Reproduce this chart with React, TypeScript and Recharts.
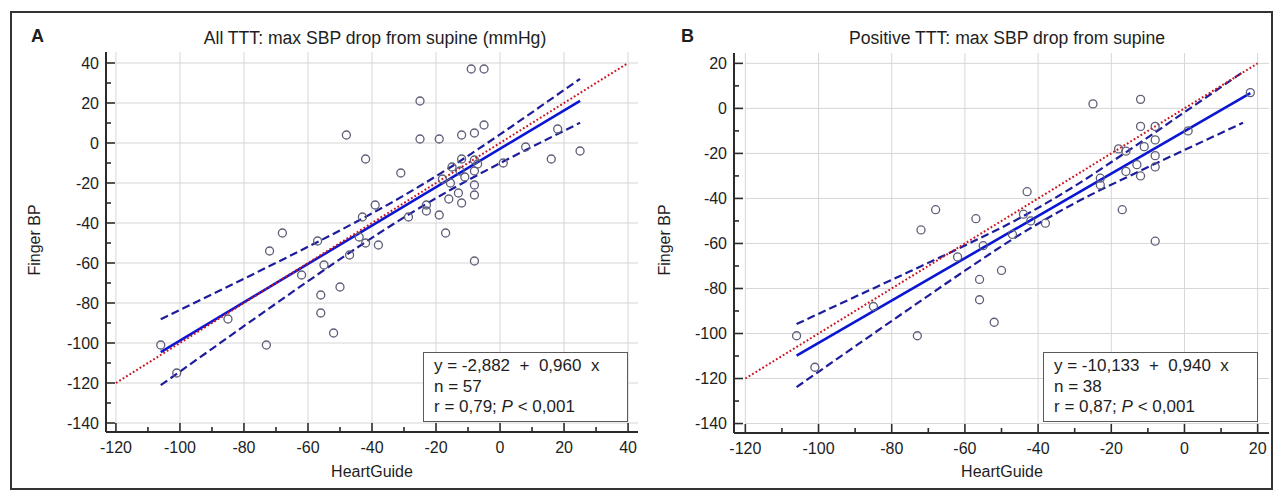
import React from "react"
import { ComposedChart, Scatter, Line, XAxis, YAxis, ReferenceLine } from "recharts"

type Pt = { x: number; y: number }

// panel A: all tilt tests (HeartGuide vs finger BP, max SBP drop)
const allTTT: Pt[] = [
  { x: -48, y: 4 }, { x: -42, y: -8 }, { x: -43, y: -37 }, { x: -68, y: -45 },
  { x: -57, y: -49 }, { x: -9, y: 37 }, { x: -5, y: 37 }, { x: -25, y: 21 },
  { x: -25, y: 2 }, { x: -19, y: 2 }, { x: -12, y: 4 }, { x: -8, y: 5 },
  { x: -5, y: 9 }, { x: 18, y: 7 }, { x: 8, y: -2 }, { x: 25, y: -4 },
  { x: 16, y: -8 }, { x: 1, y: -10 }, { x: -31, y: -15 }, { x: -12, y: -8 },
  { x: -8, y: -8.5 }, { x: -7, y: -10.5 }, { x: -15, y: -12 }, { x: -12.5, y: -14 },
  { x: -8, y: -14 }, { x: -11, y: -17 }, { x: -18, y: -18 }, { x: -15.5, y: -20 },
  { x: -8, y: -21 }, { x: -13, y: -25 }, { x: -8, y: -26 }, { x: -16, y: -28 },
  { x: -12, y: -30 }, { x: -23, y: -31 }, { x: -39, y: -31 }, { x: -23, y: -34 },
  { x: -19, y: -36 }, { x: -28.6, y: -37 }, { x: -17, y: -45 }, { x: -72, y: -54 },
  { x: -44, y: -47 }, { x: -42, y: -50 }, { x: -47, y: -56 }, { x: -55, y: -61 },
  { x: -62, y: -66 }, { x: -50, y: -72 }, { x: -56, y: -76 }, { x: -56, y: -85 },
  { x: -52, y: -95 }, { x: -85, y: -88 }, { x: -106, y: -101 }, { x: -73, y: -101 },
  { x: -101, y: -115 }, { x: -38, y: -51 }, { x: -8, y: -59 },
]

// panel B: positive tilt tests only
const positiveTTT: Pt[] = [
  { x: -68, y: -45 }, { x: -72, y: -54 }, { x: -57, y: -49 }, { x: -55, y: -61 },
  { x: -25, y: 2 }, { x: -12, y: 4 }, { x: 18, y: 7 }, { x: -12, y: -8 },
  { x: -8, y: -8 }, { x: 1, y: -10 }, { x: -8, y: -14 }, { x: -18, y: -18 },
  { x: -16, y: -19 }, { x: -11, y: -17 }, { x: -8, y: -21 }, { x: -13, y: -25 },
  { x: -8, y: -26 }, { x: -16, y: -28 }, { x: -12, y: -30 }, { x: -23, y: -31 },
  { x: -23, y: -34 }, { x: -43, y: -37 }, { x: -17, y: -45 }, { x: -44, y: -47 },
  { x: -42, y: -50 }, { x: -38, y: -51 }, { x: -47, y: -56 }, { x: -8, y: -59 },
  { x: -62, y: -66 }, { x: -56, y: -76 }, { x: -56, y: -85 }, { x: -50, y: -72 },
  { x: -52, y: -95 }, { x: -85, y: -88 }, { x: -106, y: -101 }, { x: -73, y: -101 },
  { x: -101, y: -115 },
]

const fitAll: Pt[] = [{ x: -106, y: -104.6 }, { x: 25, y: 21.1 }]
const upperAll: Pt[] = [
  { x: -106, y: -88.1 }, { x: -90, y: -75.7 }, { x: -75, y: -63.9 }, { x: -60, y: -51.9 },
  { x: -45, y: -39.5 }, { x: -30, y: -26.2 }, { x: -15, y: -11.6 }, { x: 0, y: 4.3 },
  { x: 15, y: 20.9 }, { x: 25, y: 32.1 },
]
const lowerAll: Pt[] = [
  { x: -106, y: -121.1 }, { x: -90, y: -102.9 }, { x: -75, y: -85.9 }, { x: -60, y: -69.1 },
  { x: -45, y: -52.7 }, { x: -30, y: -37.2 }, { x: -15, y: -23.0 }, { x: 0, y: -10.1 },
  { x: 15, y: 2.1 }, { x: 25, y: 10.1 },
]
const identityAll: Pt[] = [{ x: -120, y: -120 }, { x: 40, y: 40 }]

const fitPos: Pt[] = [{ x: -106, y: -109.8 }, { x: 18, y: 6.8 }]
const upperPos: Pt[] = [
  { x: -106, y: -95.8 }, { x: -90, y: -83.7 }, { x: -75, y: -72.4 }, { x: -60, y: -60.9 },
  { x: -45, y: -48.7 }, { x: -30, y: -34.5 }, { x: -15, y: -18.4 }, { x: 0, y: -1.7 },
  { x: 16, y: 16.2 },
]
const lowerPos: Pt[] = [
  { x: -106, y: -123.8 }, { x: -90, y: -105.7 }, { x: -75, y: -88.8 }, { x: -60, y: -72.1 },
  { x: -45, y: -56.1 }, { x: -30, y: -42.1 }, { x: -15, y: -30.0 }, { x: 0, y: -18.5 },
  { x: 16, y: -6.4 },
]
const identityPos: Pt[] = [{ x: -120, y: -120 }, { x: 20, y: 20 }]

const xTicksAll = [-120, -110, -100, -90, -80, -70, -60, -50, -40, -30, -20, -10, 0, 10, 20, 30, 40]
const yTicksAll = [-140, -130, -120, -110, -100, -90, -80, -70, -60, -50, -40, -30, -20, -10, 0, 10, 20, 30, 40]
const xTicksPos = [-120, -110, -100, -90, -80, -70, -60, -50, -40, -30, -20, -10, 0, 10, 20]
const yTicksPos = [-140, -130, -120, -110, -100, -90, -80, -70, -60, -50, -40, -30, -20, -10, 0, 10, 20]

const FONT = '"Liberation Sans", Arial, Helvetica, sans-serif'
const AXIS = "#2b2b2b"
const GRID = "#d6d6d6"
const TEXT = "#1e1e1e"

function YTick(props: any) {
  const { x, y, payload } = props
  const major = payload.value % 20 === 0
  return (
    <g>
      <line x1={x} x2={x + (major ? 9 : 5)} y1={y} y2={y} stroke={AXIS} strokeWidth={1.6} />
      {major && (
        <text x={x - 7} y={y + 5.8} textAnchor="end" fontSize={16} fontFamily={FONT} fill={TEXT}>
          {payload.value}
        </text>
      )}
    </g>
  )
}

function XTick(props: any) {
  const { x, y, payload } = props
  const major = payload.value % 20 === 0
  return (
    <g>
      <line x1={x} x2={x} y1={y} y2={y - (major ? 9 : 5)} stroke={AXIS} strokeWidth={1.6} />
      {major && (
        <text x={x} y={y + 20.5} textAnchor="middle" fontSize={16} fontFamily={FONT} fill={TEXT}>
          {payload.value}
        </text>
      )}
    </g>
  )
}

const circle = (p: any) => <circle cx={p.cx} cy={p.cy} r={4} fill="none" stroke="#5e5e78" strokeWidth={1.3} />

interface PanelProps {
  points: Pt[]
  fit: Pt[]
  upper: Pt[]
  lower: Pt[]
  identity: Pt[]
  xTicks: number[]
  yTicks: number[]
  xDomain: [number, number]
  yDomain: [number, number]
  width: number
  margin: { top: number; right: number; bottom: number; left: number }
}

function Panel({ points, fit, upper, lower, identity, xTicks, yTicks, xDomain, yDomain, width, margin }: PanelProps) {
  const majorX = xTicks.filter((v) => v % 20 === 0)
  const majorY = yTicks.filter((v) => v % 20 === 0)
  return (
    <ComposedChart width={width} height={493} margin={margin}>
      <XAxis
        type="number"
        dataKey="x"
        domain={xDomain}
        allowDataOverflow
        ticks={xTicks}
        interval={0}
        height={40}
        tickSize={0}
        tickMargin={0}
        tickLine={false}
        tick={<XTick />}
        axisLine={{ stroke: AXIS, strokeWidth: 2 }}
      />
      <YAxis
        type="number"
        dataKey="y"
        domain={yDomain}
        allowDataOverflow
        ticks={yTicks}
        interval={0}
        width={60}
        tickSize={0}
        tickMargin={0}
        tickLine={false}
        tick={<YTick />}
        axisLine={{ stroke: AXIS, strokeWidth: 2 }}
      />
      {majorX.map((v) => (
        <ReferenceLine
          key={"vx" + v}
          segment={[{ x: v, y: yTicks[0] }, { x: v, y: yDomain[1] }]}
          stroke={GRID}
          ifOverflow="visible"
          zIndex={-100}
        />
      ))}
      {majorY.map((v) => (
        <ReferenceLine
          key={"hy" + v}
          segment={[{ x: xTicks[0], y: v }, { x: xDomain[1], y: v }]}
          stroke={GRID}
          ifOverflow="visible"
          zIndex={-100}
        />
      ))}
      <Scatter data={points} dataKey="y" shape={circle} isAnimationActive={false} />
      <Line data={upper} dataKey="y" type="monotone" stroke="#1c1c9c" strokeWidth={2.2} strokeDasharray="8 4" dot={false} activeDot={false} isAnimationActive={false} />
      <Line data={lower} dataKey="y" type="monotone" stroke="#1c1c9c" strokeWidth={2.2} strokeDasharray="8 4" dot={false} activeDot={false} isAnimationActive={false} />
      <Line data={fit} dataKey="y" type="linear" stroke="#0a16d2" strokeWidth={2.6} dot={false} activeDot={false} isAnimationActive={false} />
      <Line data={identity} dataKey="y" type="linear" stroke="#c8141e" strokeWidth={2} strokeDasharray="1.8 2.2" dot={false} activeDot={false} isAnimationActive={false} />
    </ComposedChart>
  )
}

const abs = (style: React.CSSProperties): React.CSSProperties => ({ position: "absolute", fontFamily: FONT, color: TEXT, ...style })

function StatsBox({ left, width, eq, n, r }: { left: number; width: number; eq: string; n: string; r: string }) {
  return (
    <div
      style={abs({
        left,
        top: 352,
        width,
        height: 70,
        boxSizing: "border-box",
        border: "1px solid #5a5a5a",
        background: "#fff",
        padding: "3px 0 0 10px",
        fontSize: 17,
        lineHeight: "20.6px",
        whiteSpace: "pre",
        zIndex: 2,
      })}
    >
      <div>{eq}</div>
      <div>{n}</div>
      <div>
        {r}
        <i>P</i> {"< 0,001"}
      </div>
    </div>
  )
}

export default function App() {
  return (
    <div style={{ position: "absolute", left: 0, top: 0, width: 1276, height: 493, background: "#fff", overflow: "hidden" }}>
      <div style={{ position: "absolute", left: 10, top: 11, width: 1259, height: 475, border: "2px solid #333" }} />

      <div style={{ position: "absolute", left: 0, top: 0 }}>
        <Panel
          points={allTTT}
          fit={fitAll}
          upper={upperAll}
          lower={lowerAll}
          identity={identityAll}
          xTicks={xTicksAll}
          yTicks={yTicksAll}
          xDomain={[-123.1, 43.1]}
          yDomain={[-144.5, 45.5]}
          width={650}
          margin={{ top: 52, right: 12, bottom: 21, left: 46 }}
        />
      </div>
      <div style={{ position: "absolute", left: 650, top: 0 }}>
        <Panel
          points={positiveTTT}
          fit={fitPos}
          upper={upperPos}
          lower={lowerPos}
          identity={identityPos}
          xTicks={xTicksPos}
          yTicks={yTicksPos}
          xDomain={[-123.1, 23.1]}
          yDomain={[-144.2, 24.6]}
          width={626}
          margin={{ top: 53, right: 7, bottom: 20, left: 24 }}
        />
      </div>

      <div style={abs({ left: 31, top: 26, fontSize: 18, fontWeight: "bold" })}>A</div>
      <div style={abs({ left: 681, top: 26, fontSize: 18, fontWeight: "bold" })}>B</div>

      <div style={abs({ left: 125, top: 28, width: 500, textAlign: "center", fontSize: 17.6 })}>
        All TTT: max SBP drop from supine (mmHg)
      </div>
      <div style={abs({ left: 757, top: 28, width: 500, textAlign: "center", fontSize: 17.6 })}>
        Positive TTT: max SBP drop from supine
      </div>

      <div style={abs({ left: -65, top: 231, width: 200, height: 18, lineHeight: "18px", textAlign: "center", fontSize: 16, transform: "rotate(-90deg)" })}>
        Finger BP
      </div>
      <div style={abs({ left: 565, top: 231, width: 200, height: 18, lineHeight: "18px", textAlign: "center", fontSize: 16, transform: "rotate(-90deg)" })}>
        Finger BP
      </div>

      <div style={abs({ left: 272, top: 463, width: 200, textAlign: "center", fontSize: 16 })}>HeartGuide</div>
      <div style={abs({ left: 902, top: 463, width: 200, textAlign: "center", fontSize: 16 })}>HeartGuide</div>

      <StatsBox left={423} width={205} eq={"y = -2,882  +  0,960  x"} n="n = 57" r="r = 0,79; " />
      <StatsBox left={1043} width={215} eq={"y = -10,133  +  0,940  x"} n="n = 38" r="r = 0,87; " />
    </div>
  )
}
